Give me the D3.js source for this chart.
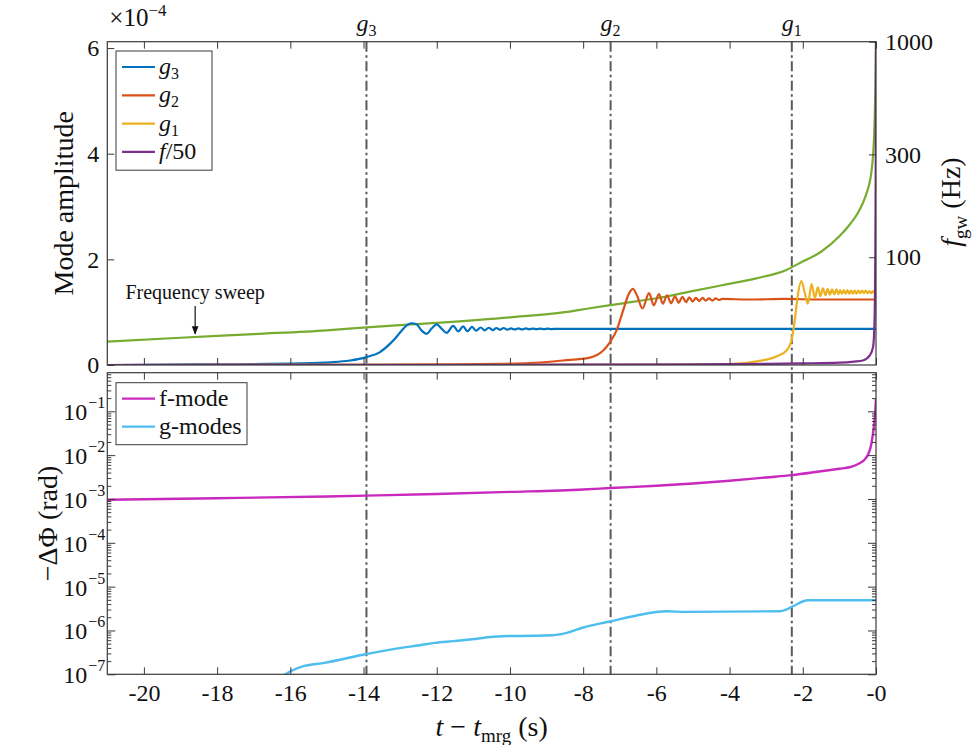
<!DOCTYPE html>
<html>
<head>
<meta charset="UTF-8">
<title>Mode amplitude and phase shift</title>
<script src="https://cdn.jsdelivr.net/npm/d3@7"></script>
<style>
    body { margin: 0; background: #fff; }
    svg text { font-family: "Liberation Serif", "DejaVu Serif", serif; fill: #111; }
    .axis path { display: none; }
    .axis line { stroke: #3a3a3a; stroke-width: 1; }
    .axis text { font-size: 24px; }
</style>
</head>
<body>
<div id="chart"></div>
<script>
//----------------------------------------- data
// time ticks (s before merger)
var tTicks = [-20, -18, -16, -14, -12, -10, -8, -6, -4, -2, 0];
var ampTicks = [0, 2, 4, 6];           // x 1e-4
var freqTicks = [100, 300, 1000];      // Hz
var phiTicks = [1e-7, 1e-6, 1e-5, 1e-4, 1e-3, 1e-2, 1e-1];

// resonance times marked by dash-dot lines
var resNames = ["3", "2", "1"];
var resTimes = [-13.92, -7.25, -2.30];

// mode amplitudes, [t, amplitude x 1e-4]
var g3Amp = [[-21,0.0],[-18.5,0.01],[-15.73,0.03],[-14.91,0.05],[-14.37,0.085],[-13.92,0.15],[-13.56,0.24],
    [-13.28,0.40],[-13.10,0.53],[-12.96,0.65],[-12.82,0.75],[-12.69,0.79],[-12.55,0.77],[-12.41,0.65],
    [-12.28,0.59],[-12.14,0.69],[-12.00,0.77],[-11.87,0.69],[-11.73,0.61],[-11.55,0.74],[-11.41,0.635],
    [-11.28,0.73],[-11.16,0.64],[-11.04,0.72],[-10.92,0.65],[-10.80,0.71],[-10.69,0.655],[-10.58,0.705],
    [-10.47,0.66],[-10.37,0.70],[-10.27,0.665],[-10.17,0.70],[-10.07,0.67],[-9.97,0.695],[-9.87,0.672],
    [-9.77,0.693],[-9.67,0.674],[-9.57,0.692],[-9.47,0.676],[-9.37,0.690],[-9.27,0.678],[-9.17,0.689],
    [-9.07,0.679],[-8.97,0.688],[-8.87,0.680],[-8.7,0.685],[-7,0.685],[-4,0.683],[-1,0.685],[0,0.685]];
var g2Amp = [[-21,0.0],[-14,0.004],[-11.5,0.01],[-10.37,0.02],[-9.46,0.035],[-8.55,0.085],[-7.82,0.14],
    [-7.46,0.27],[-7.27,0.43],[-7.09,0.65],[-6.91,1.03],[-6.77,1.32],[-6.64,1.44],[-6.52,1.30],[-6.38,1.07],
    [-6.20,1.36],[-6.07,1.13],[-5.93,1.34],[-5.82,1.16],[-5.71,1.32],[-5.60,1.17],[-5.49,1.30],[-5.39,1.18],
    [-5.29,1.29],[-5.19,1.19],[-5.10,1.28],[-5.01,1.20],[-4.92,1.27],[-4.83,1.21],[-4.74,1.27],[-4.65,1.22],
    [-4.56,1.26],[-4.47,1.22],[-4.38,1.26],[-4.29,1.23],[-4.2,1.25],[-3.5,1.24],[-2.5,1.25],[-1.5,1.24],
    [-0.5,1.24],[0,1.24]];
var g1Amp = [[-21,0.0],[-6,0.002],[-4.5,0.01],[-3.91,0.02],[-3.27,0.07],[-2.72,0.16],[-2.45,0.27],[-2.31,0.46],
    [-2.22,0.84],[-2.13,1.35],[-2.04,1.59],[-1.95,1.38],[-1.86,1.16],[-1.76,1.53],[-1.67,1.27],[-1.59,1.47],
    [-1.52,1.30],[-1.45,1.45],[-1.38,1.32],[-1.32,1.44],[-1.26,1.33],[-1.20,1.43],[-1.14,1.34],[-1.08,1.43],
    [-1.03,1.34],[-0.98,1.42],[-0.93,1.35],[-0.88,1.42],[-0.83,1.35],[-0.78,1.42],[-0.73,1.35],[-0.68,1.41],
    [-0.63,1.35],[-0.58,1.41],[-0.53,1.35],[-0.48,1.41],[-0.43,1.36],[-0.38,1.41],[-0.33,1.36],[-0.28,1.41],
    [-0.23,1.36],[-0.18,1.40],[-0.13,1.36],[-0.08,1.40],[-0.03,1.37],[0,1.39]];
var fAmp = [[-21,0.0],[-10,0.005],[-5,0.012],[-3,0.02],[-2,0.03],[-1,0.045],[-0.6,0.065],[-0.36,0.085],
    [-0.17,0.18],[-0.08,0.34],[-0.04,0.84],[-0.02,2.0],[-0.008,3.6],[0,6.3]];

// gravitational-wave frequency sweep, [t, Hz]
var fgw = [[-21,40.6],[-19,42.3],[-17,44.0],[-15,45.8],[-13.92,47.3],[-12,49.6],[-10,52.6],[-8.5,55.6],
    [-7.82,58.0],[-6.91,61.1],[-6.0,64.5],[-5.09,69.2],[-4.18,74.3],[-3.27,79.8],[-2.45,87.3],[-2.08,94],
    [-1.5,106],[-1.0,125],[-0.7,143],[-0.5,160],[-0.35,180],[-0.25,200],[-0.18,220],[-0.13,245],
    [-0.08,298],[-0.05,370],[-0.03,480],[-0.015,640],[0,1000]];

// phase shift, [t, -dPhi in rad]
var fModePhi = [[-21,9.6e-4],[-18,1.04e-3],[-15,1.14e-3],[-13.92,1.19e-3],[-12,1.3e-3],[-10,1.45e-3],
    [-8,1.65e-3],[-7.25,1.78e-3],[-6,2.0e-3],[-5,2.25e-3],[-4,2.6e-3],[-3,3.1e-3],[-2.3,3.5e-3],
    [-1.5,4.3e-3],[-1,4.9e-3],[-0.72,5.3e-3],[-0.5,6.2e-3],[-0.26,8.9e-3],[-0.13,0.0178],[-0.06,0.043],
    [-0.02,0.1],[0,0.2]];
var gModePhi = [[-16.25,8.5e-8],[-16.13,1e-7],[-15.62,1.55e-7],[-15.11,1.8e-7],[-13.92,2.9e-7],[-13.07,3.9e-7],
    [-12.46,4.6e-7],[-12.05,5.2e-7],[-11.55,5.7e-7],[-11.04,6.3e-7],[-10.46,7.2e-7],[-10.03,7.5e-7],
    [-9.73,7.5e-7],[-8.82,7.8e-7],[-8.45,8.8e-7],[-8.0,1.17e-6],[-7.27,1.6e-6],[-6.54,2.2e-6],
    [-5.72,2.74e-6],[-5.18,2.65e-6],[-2.63,2.74e-6],[-2.45,3.0e-6],[-2.27,3.57e-6],[-1.86,4.9e-6],[0,4.9e-6]];

//----------------------------------------- layout
var left = 107.3, right = 876;
var topP = { y0: 41.7, y1: 365 };
var botP = { y0: 372.7, y1: 674.3 };
var dashColor = "#5a5a5a";
var serif = "'Liberation Serif', 'DejaVu Serif', serif";

var svg = d3.select("#chart").append("svg")
        .attr("width", 976)
        .attr("height", 745)
        .attr("font-family", serif);

var x = d3.scaleLinear().domain([-21, 0]).range([left, right]);
var yAmp = d3.scaleLinear().domain([0, 6.12]).range([topP.y1, topP.y0]);
var yF = d3.scaleLog().domain([31.62, 1000]).range([topP.y1, topP.y0]);
var yPhi = d3.scaleLog().domain([1e-7, 0.76]).range([botP.y1, botP.y0]);

// helper: append tspan pieces to a text node
function rich(sel, parts) {
    parts.forEach(function (p) {
        var t = sel.append("tspan").text(p.t);
        if (p.i) t.style("font-style", "italic");
        if (p.fs) t.style("font-size", p.fs + "px");
        if (p.dy) t.attr("dy", p.dy);
    });
    return sel;
}

var defs = svg.append("defs");
defs.append("clipPath").attr("id", "clipTop").append("rect")
        .attr("x", left).attr("y", topP.y0).attr("width", right - left).attr("height", topP.y1 - topP.y0);
defs.append("clipPath").attr("id", "clipBot").append("rect")
        .attr("x", left).attr("y", botP.y0).attr("width", right - left).attr("height", botP.y1 - botP.y0);
defs.append("marker").attr("id", "arrow")
        .attr("viewBox", "0 0 10 10").attr("refX", 9).attr("refY", 5)
        .attr("markerWidth", 7).attr("markerHeight", 8).attr("orient", "auto")
        .append("path").attr("d", "M0,1 L10,5 L0,9 Z").attr("fill", "#111");

//----------------------------------------- resonance lines
svg.selectAll("line.res").data(resTimes).enter()
        .append("line")
        .attr("class", "res")
        .attr("x1", function (d) { return x(d); })
        .attr("x2", function (d) { return x(d); })
        .attr("y1", topP.y0)
        .attr("y2", botP.y1)
        .attr("stroke", dashColor)
        .attr("stroke-width", 2)
        .attr("stroke-dasharray", "10,3.5,2.5,3.5");

resTimes.forEach(function (t, i) {
    var lab = svg.append("text").attr("x", x(t)).attr("y", 31)
            .attr("text-anchor", "middle").style("font-size", "24px");
    rich(lab, [{t: "g", i: true}, {t: resNames[i], fs: 16, dy: 5}]);
});

//----------------------------------------- top panel curves
var lineAmp = d3.line().curve(d3.curveMonotoneX)
        .x(function (d) { return x(d[0]); }).y(function (d) { return yAmp(d[1]); });
var lineF = d3.line().curve(d3.curveMonotoneX)
        .x(function (d) { return x(d[0]); }).y(function (d) { return yF(d[1]); });

var topSeries = [
    {name: "3", data: g3Amp, color: "#0072BD"},
    {name: "2", data: g2Amp, color: "#D95319"},
    {name: "1", data: g1Amp, color: "#EDB120"},
    {name: "f", data: fAmp, color: "#7E2F8E"}
];
var gTop = svg.append("g").attr("clip-path", "url(#clipTop)");
gTop.append("path").attr("d", lineF(fgw))
        .attr("fill", "none").attr("stroke", "#77AC30").attr("stroke-width", 2.2);
topSeries.forEach(function (s) {
    gTop.append("path").attr("d", lineAmp(s.data))
            .attr("fill", "none").attr("stroke", s.color)
            .attr("stroke-width", 2.2).attr("stroke-linejoin", "round");
});

//----------------------------------------- bottom panel curves
var linePhi = d3.line().curve(d3.curveMonotoneX)
        .x(function (d) { return x(d[0]); }).y(function (d) { return yPhi(d[1]); });
var botSeries = [
    {name: "f-mode", data: fModePhi, color: "#C929BE"},
    {name: "g-modes", data: gModePhi, color: "#4DBEEE"}
];
var gBot = svg.append("g").attr("clip-path", "url(#clipBot)");
botSeries.forEach(function (s) {
    gBot.append("path").attr("d", linePhi(s.data))
            .attr("fill", "none").attr("stroke", s.color)
            .attr("stroke-width", 2.4).attr("stroke-linejoin", "round");
});

//----------------------------------------- axes
function noLabels() { return ""; }
function axisG(tr) {
    return svg.append("g").attr("class", "axis").attr("transform", tr);
}
function fixFont(g) { g.attr("font-family", serif).attr("font-size", null); }

axisG("translate(0," + topP.y0 + ")")
        .call(d3.axisTop(x).tickValues(tTicks).tickSize(-7).tickFormat(noLabels)).call(fixFont);
axisG("translate(0," + topP.y1 + ")")
        .call(d3.axisBottom(x).tickValues(tTicks).tickSize(-7).tickFormat(noLabels)).call(fixFont);
axisG("translate(" + left + ",0)")
        .call(d3.axisLeft(yAmp).tickValues(ampTicks).tickSize(-7).tickPadding(8).tickFormat(d3.format("d")))
        .call(fixFont);
axisG("translate(" + right + ",0)")
        .call(d3.axisRight(yF).tickValues(freqTicks).tickSize(-7).tickPadding(9).tickFormat(d3.format("d")))
        .call(fixFont);

axisG("translate(0," + botP.y0 + ")")
        .call(d3.axisTop(x).tickValues(tTicks).tickSize(-7).tickFormat(noLabels)).call(fixFont);
axisG("translate(0," + botP.y1 + ")")
        .call(d3.axisBottom(x).tickValues(tTicks).tickSize(-7).tickPadding(10)
                .tickFormat(function (d) { return d === 0 ? "-0" : String(d); }))
        .call(fixFont);

// log minor ticks
var phiMinor = [];
phiTicks.forEach(function (d) {
    for (var k = 2; k < 10; k++) {
        if (d * k < 0.76) phiMinor.push(d * k);
    }
});
[[left, d3.axisLeft], [right, d3.axisRight]].forEach(function (a) {
    axisG("translate(" + a[0] + ",0)")
            .call(a[1](yPhi).tickValues(phiMinor).tickSize(-4).tickFormat(noLabels));
    axisG("translate(" + a[0] + ",0)")
            .call(a[1](yPhi).tickValues(phiTicks).tickSize(-8).tickFormat(noLabels));
});
phiTicks.forEach(function (d) {
    svg.append("text").attr("x", left - 20).attr("y", yPhi(d) + 9)
            .attr("text-anchor", "end").style("font-size", "24px")
            .text("10");
    svg.append("text").attr("x", left - 19).attr("y", yPhi(d) - 3)
            .attr("text-anchor", "start").style("font-size", "16px")
            .text("\u2212" + Math.round(-Math.log10(d)));
});

// boxes
[topP, botP].forEach(function (p) {
    svg.append("rect").attr("x", left).attr("y", p.y0)
            .attr("width", right - left).attr("height", p.y1 - p.y0)
            .attr("fill", "none").attr("stroke", "#3a3a3a").attr("stroke-width", 1.2);
});

//----------------------------------------- axis titles
var ex = svg.append("text").attr("x", left + 2).attr("y", 26).style("font-size", "25px");
rich(ex, [{t: "\u00d710"}, {t: "\u22124", fs: 17, dy: -10}]);

svg.append("text")
        .attr("transform", "translate(73," + ((topP.y0 + topP.y1) / 2) + ") rotate(-90)")
        .attr("text-anchor", "middle").style("font-size", "28px")
        .text("Mode amplitude");

var fl = svg.append("text")
        .attr("transform", "translate(960,202) rotate(-90)")
        .attr("text-anchor", "middle").style("font-size", "28px");
rich(fl, [{t: "f", i: true}, {t: "gw", fs: 19, dy: 7}, {t: " (Hz)", dy: -7}]);

svg.append("text")
        .attr("transform", "translate(57," + ((botP.y0 + botP.y1) / 2) + ") rotate(-90)")
        .attr("text-anchor", "middle").style("font-size", "28px")
        .text("\u2212\u0394\u03a6 (rad)");

var xl = svg.append("text").attr("x", (left + right) / 2).attr("y", 736)
        .attr("text-anchor", "middle").style("font-size", "28px");
rich(xl, [{t: "t", i: true}, {t: " \u2212 "}, {t: "t", i: true}, {t: "mrg", fs: 19, dy: 6}, {t: " (s)", dy: -6}]);

//----------------------------------------- annotation
var sweepT = -18.6;
svg.append("text").attr("x", x(sweepT)).attr("y", 299)
        .attr("text-anchor", "middle").style("font-size", "20px")
        .text("Frequency sweep");
svg.append("line")
        .attr("x1", x(sweepT)).attr("x2", x(sweepT))
        .attr("y1", 306).attr("y2", yF(43.2) - 2)
        .attr("stroke", "#111").attr("stroke-width", 1.2)
        .attr("marker-end", "url(#arrow)");

//----------------------------------------- legends
function legend(x0, y0, w, rowH, items) {
    var g = svg.append("g");
    g.append("rect").attr("x", x0).attr("y", y0).attr("width", w)
            .attr("height", rowH * items.length + 6)
            .attr("fill", "#fff").attr("stroke", "#3a3a3a").attr("stroke-width", 1);
    items.forEach(function (it, i) {
        var cy = y0 + 16 + i * rowH;
        g.append("line").attr("x1", x0 + 6).attr("x2", x0 + 39)
                .attr("y1", cy).attr("y2", cy)
                .attr("stroke", it.color).attr("stroke-width", 2.2);
        var t = g.append("text").attr("x", x0 + 43).attr("y", cy + 7).style("font-size", "24px");
        rich(t, it.parts);
    });
}
legend(116, 51, 96, 28.3, topSeries.map(function (s) {
    var parts = s.name === "f"
            ? [{t: "f", i: true}, {t: "/50"}]
            : [{t: "g", i: true}, {t: s.name, fs: 16, dy: 5}];
    return {color: s.color, parts: parts};
}));
legend(116, 382.7, 131, 28, botSeries.map(function (s) {
    return {color: s.color, parts: [{t: s.name}]};
}));
</script>
</body>
</html>
